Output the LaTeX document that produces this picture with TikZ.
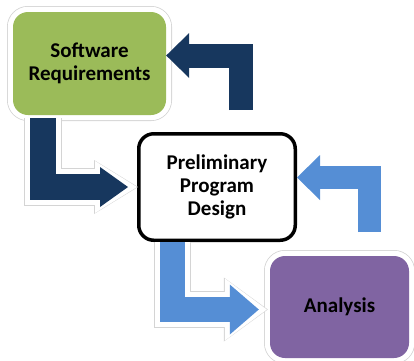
\documentclass[tikz,border=0pt]{standalone}
\usepackage{fontspec}
\setmainfont{Carlito}
\usetikzlibrary{arrows.meta,calc,positioning}
\definecolor{Leaf}{HTML}{9BBB59}
\definecolor{Navy}{HTML}{17375E}
\definecolor{Sky}{HTML}{558ED5}
\definecolor{Plum}{HTML}{8064A2}
\definecolor{Rim}{HTML}{D4D4D4}

\begin{document}
\begin{tikzpicture}[x=1pt,y=-1pt,
  box/.style={rounded corners=15pt,inner sep=0pt,align=center,
    font=\fontsize{21pt}{23pt}\selectfont\bfseries},
  glow/.style={preaction={draw=Rim,line width=12pt},
    preaction={draw=white,line width=10.4pt}},
  bent/.style={line width=#1,line join=miter}
]
\useasboundingbox (0,0) rectangle (414,360);

% Three boxes.
\node[box,glow,fill=Leaf,minimum width=153pt,minimum height=103pt]
  (req) at (89.5,63.5) {Software\\Requirements};
\node[box,draw=black,line width=3.5pt,fill=white,
  minimum width=156.5pt,minimum height=106.5pt]
  (design) at (217,187) {Preliminary\\Program\\Design};
\node[box,glow,fill=Plum,minimum width=139pt,minimum height=102pt]
  (ana) at (339.5,307) {Analysis};

% Free tails of the two return arrows.
\coordinate (navytail) at (240.5,110);
\coordinate (skytail) at (369,232);

% Forward arrows (with rim).
\draw[Navy,bent=26pt,-{Triangle[length=28pt,width=40pt,line width=0pt]},
  preaction={draw=Rim,line width=38pt,shorten >=-10pt,
    -{Triangle[length=44pt,width=54pt,line width=0pt]}},
  preaction={draw=white,line width=36.4pt,shorten >=-9pt,
    -{Triangle[length=42pt,width=52pt,line width=0pt]}}]
  ([xshift=30pt,yshift=-3pt]req.south west) |- ([xshift=-9pt]design.west);
\draw[Sky,bent=25pt,-{Triangle[length=29pt,width=50pt,line width=0pt]},
  preaction={draw=Rim,line width=37pt,shorten >=-9pt,
    -{Triangle[length=44pt,width=64pt,line width=0pt]}},
  preaction={draw=white,line width=35.4pt,shorten >=-8pt,
    -{Triangle[length=42pt,width=62pt,line width=0pt]}}]
  ([xshift=35.5pt]design.south west) |- ([xshift=-11pt,yshift=-2.5pt]ana.west);

% Return arrows.
\draw[Navy,bent=24pt,-{Triangle[length=23pt,width=45pt,line width=0pt]}]
  (navytail) |- ([yshift=8pt]req.east);
\draw[Sky,bent=23pt,-{Triangle[length=23pt,width=45pt,line width=0pt]}]
  (skytail) |- ([yshift=9.5pt]design.east);
\end{tikzpicture}
\end{document}
